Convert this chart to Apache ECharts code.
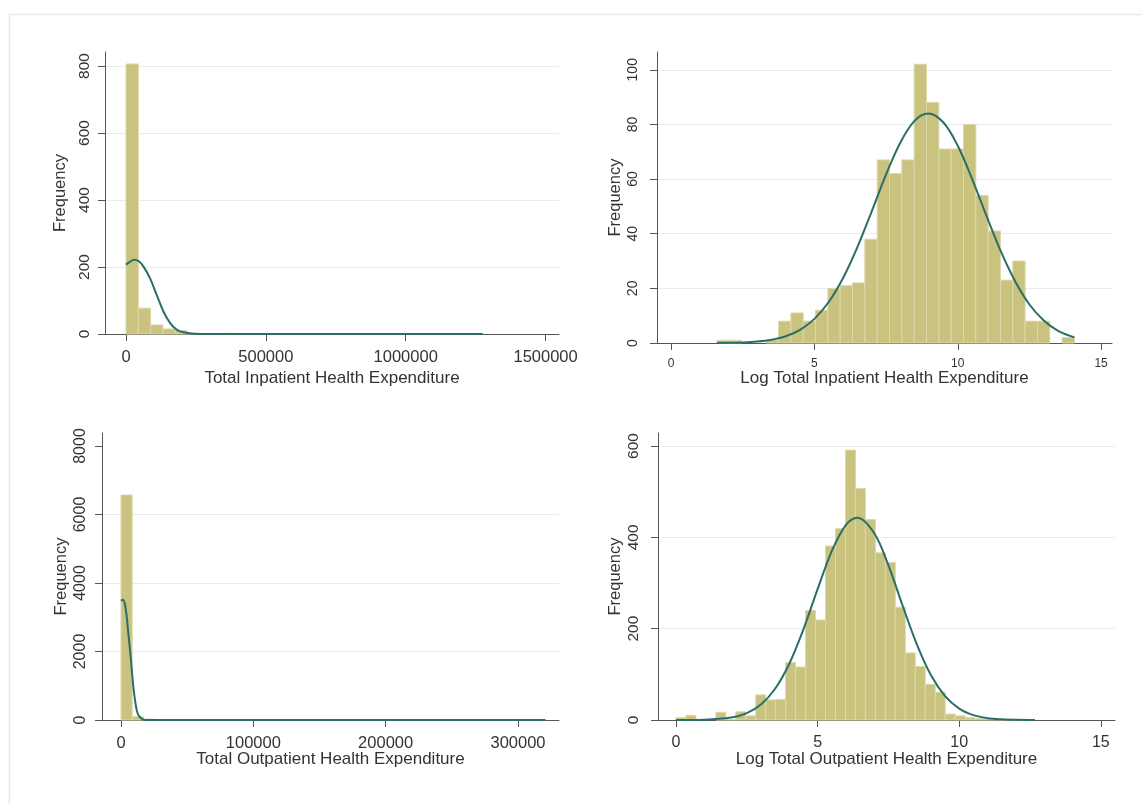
<!DOCTYPE html>
<html><head><meta charset="utf-8">
<script src="https://cdn.jsdelivr.net/npm/echarts@6/dist/echarts.min.js"></script>
<style>html,body{margin:0;padding:0;background:#fff}#c{width:1141px;height:804px}</style>
</head><body><div id="c"></div>
<script>
// ---------- DATA ----------
// Panel 1: Total Inpatient Health Expenditure
const inpBinStart = 0;
const inpBinWidth = 44000;
const inpCounts = [806,77,27,15,10,3,0,0,2,1,0,1,0,0,0,0,0,0,0,0,0,0,1,0,0,0,0,0,1];
const inpCurve = [[0,207],[15000,216],[28600,222],[45000,218],[62000,202],[85800,167],[109700,117],[133500,68],[157300,33],[181000,13],[205000,5],[240000,1],[280000,0],[1276000,0]];
const inpXTicks = [0,500000,1000000,1500000];
const inpYTicks = [0,200,400,600,800];
const inpGrid = [200,400,600,800];

// Panel 2: Log Total Inpatient Health Expenditure
const linBinStart = 1.6;
const linBinWidth = 0.43;
const linCounts = [1,1,0,0,1,8,11,8,12,20,21,22,38,67,62,67,102,88,71,71,80,54,41,23,30,8,8,0,2];
const linCurve = [[1.6,0.04],[2,0.08],[2.5,0.21],[3,0.51],[3.5,1.17],[4,2.46],[4.5,4.82],[5,8.83],[5.5,15.0],[6,23.8],[6.5,35.1],[7,48.2],[7.5,61.7],[8,73.4],[8.5,81.4],[8.97,84],[9.5,80.7],[10,72.2],[10.5,60.1],[11,46.6],[11.5,33.6],[12,22.6],[12.5,14.1],[13,8.24],[13.5,4.47],[14.07,2.07]];
const linXTicks = [0,5,10,15];
const linYTicks = [0,20,40,60,80,100];
const linGrid = [20,40,60,80,100];

// Panel 3: Total Outpatient Health Expenditure
const outBinStart = 0;
const outBinWidth = 8440;
const outCounts = [6570,95,25,10,6,5,4,3,2,0,2,1,0,0,1,0,0,0,0,0,0,0,0,0,0,0,0,0,0,0,0,0,1,0,0,0,0,1];
const outCurve = [[0,3480],[500,3493],[1500,3512],[3000,3366],[4300,3024],[5500,2537],[6800,2049],[8050,1512],[9300,976],[10570,585],[11830,293],[13080,146],[15600,39],[18100,3],[22000,0],[320700,0]];
const outXTicks = [0,100000,200000,300000];
const outYTicks = [0,2000,4000,6000,8000];
const outGrid = [2000,4000,6000];

// Panel 4: Log Total Outpatient Health Expenditure
const loutBinStart = 0;
const loutBinWidth = 0.352;
const loutCounts = [5,10,0,0,17,1,18,9,55,44,45,126,116,240,219,381,419,591,507,439,366,345,247,147,117,78,61,13,9,5,3,2,1,1,1,1];
const loutCurve = [[0,0.05],[1,0.7],[2,6.0],[2.5,15.1],[3,33.9],[3.5,68.4],[4,123.2],[4.5,198.6],[5,286.6],[5.5,370],[6,427.5],[6.4,443],[7,409],[7.5,338.5],[8,250.8],[8.5,166.3],[9,98.6],[9.5,52.4],[10,24.9],[10.5,10.6],[11,4.0],[11.5,1.4],[12,0.4],[12.67,0.07]];
const loutXTicks = [0,5,10,15];
const loutYTicks = [0,200,400,600];
const loutGrid = [200,400,600];

const xTitles = ['Total Inpatient Health Expenditure','Log Total Inpatient Health Expenditure','Total Outpatient Health Expenditure','Log Total Outpatient Health Expenditure'];
const yTitle = 'Frequency';

// ---------- LAYOUT / STYLE ----------
const FONT = '"Liberation Sans", Arial, Helvetica, sans-serif';
const TXT = '#333333';
const AXIS = '#555555';
const GRIDC = '#e6edf0';
const BAR_FILL = '#c9c37f';
const BAR_EDGE = '#dcd8aa';
const CURVE = '#2b6d68';

const panels = [
  {bs:inpBinStart,bw:inpBinWidth,counts:inpCounts,curve:inpCurve,xt:inpXTicks,yt:inpYTicks,gl:inpGrid,
   L:105,T:52,R:559,B:334,xmin:-75000,xmax:1548000,ymax:841.8,
   ylf:15.5,ylm:12.3,xlf:16.5,xlm:14.5,xng:35.6,yng:36.3},
  {bs:linBinStart,bw:linBinWidth,counts:linCounts,curve:linCurve,xt:linXTicks,yt:linYTicks,gl:linGrid,
   L:657,T:52,R:1112,B:343,xmin:-0.49,xmax:15.38,ymax:106.5,
   ylf:14,ylm:16.5,xlf:12,xlm:14.3,xng:26.6,yng:33.5},
  {bs:outBinStart,bw:outBinWidth,counts:outCounts,curve:outCurve,xt:outXTicks,yt:outYTicks,gl:outGrid,
   L:102,T:433,R:559,B:720,xmin:-14360,xmax:331000,ymax:8380,
   ylf:16,ylm:13.4,xlf:16.5,xlm:15,xng:30.6,yng:32.3},
  {bs:loutBinStart,bw:loutBinWidth,counts:loutCounts,curve:loutCurve,xt:loutXTicks,yt:loutYTicks,gl:loutGrid,
   L:658,T:433,R:1115,B:720,xmin:-0.635,xmax:15.5,ymax:628.5,
   ylf:15.5,ylm:16.3,xlf:16,xlm:15,xng:30.6,yng:34}
];

const grid = [], xAxis = [], yAxis = [], series = [];
panels.forEach((p, i) => {
  grid.push({left:p.L, top:p.T, width:p.R-p.L, height:p.B-p.T, containLabel:false, outerBoundsMode:'none'});
  xAxis.push({
    type:'value', gridIndex:i, min:p.xmin, max:p.xmax,
    name:xTitles[i], nameLocation:'middle', nameGap:p.xng, nameMoveOverlap:false,
    nameTextStyle:{fontFamily:FONT, fontSize:17, color:TXT},
    axisLine:{show:true, onZero:false, lineStyle:{color:AXIS, width:1}},
    axisTick:{show:true, length:7, inside:false, customValues:p.xt, lineStyle:{color:AXIS, width:1}},
    axisLabel:{show:true, customValues:p.xt, fontFamily:FONT, fontSize:p.xlf, color:TXT, margin:p.xlm,
      formatter:v => String(v), showMinLabel:true, showMaxLabel:true, hideOverlap:false},
    splitLine:{show:false}, minorTick:{show:false}
  });
  // main y axis
  yAxis.push({
    type:'value', gridIndex:i, min:0, max:p.ymax,
    name:yTitle, nameLocation:'middle', nameGap:p.yng, nameRotate:90, nameMoveOverlap:false,
    nameTextStyle:{fontFamily:FONT, fontSize:16.5, color:TXT},
    axisLine:{show:true, onZero:false, lineStyle:{color:AXIS, width:1}},
    axisTick:{show:true, length:7, inside:false, customValues:p.yt, lineStyle:{color:AXIS, width:1}},
    axisLabel:{show:true, customValues:p.yt, rotate:90, fontFamily:FONT, fontSize:p.ylf, color:TXT, margin:p.ylm,
      formatter:v => String(v), hideOverlap:false},
    splitLine:{show:false}
  });
  // hidden y axis carrying grid lines
  yAxis.push({
    type:'value', gridIndex:i, min:0, max:p.ymax, position:'left',
    axisLine:{show:false}, axisLabel:{show:false},
    axisTick:{show:false, customValues:p.gl},
    splitLine:{show:true, lineStyle:{color:GRIDC, width:1}}
  });
  const yi = i*2;
  const hist = p.counts.map((c, k) => [p.bs + k*p.bw, p.bs + (k+1)*p.bw, c]).filter(d => d[2] > 0);
  series.push({
    type:'custom', xAxisIndex:i, yAxisIndex:yi, data:hist, silent:true, z:2,
    encode:{x:[0,1], y:2},
    renderItem:(params, api) => {
      const p0 = api.coord([api.value(0), 0]);
      const p1 = api.coord([api.value(1), api.value(2)]);
      return {type:'rect', shape:{x:p0[0], y:p1[1], width:p1[0]-p0[0], height:p0[1]-p1[1]},
        style:{fill:BAR_FILL, stroke:BAR_EDGE, lineWidth:1}};
    }
  });
  series.push({
    type:'line', xAxisIndex:i, yAxisIndex:yi, data:p.curve, showSymbol:false, symbol:'none',
    smooth:0.35, silent:true, z:3, animation:false,
    lineStyle:{color:CURVE, width:2}
  });
});

const chart = echarts.init(document.getElementById('c'), null, {renderer:'canvas'});
chart.setOption({
  animation:false,
  backgroundColor:'#ffffff',
  graphic:[{type:'rect', left:7, top:12, shape:{x:0, y:0, width:1200, height:900},
    style:{fill:'none', stroke:'#e3e9ec', lineWidth:1.5}, silent:true, z:-10}],
  grid, xAxis, yAxis, series
});
</script></body></html>
